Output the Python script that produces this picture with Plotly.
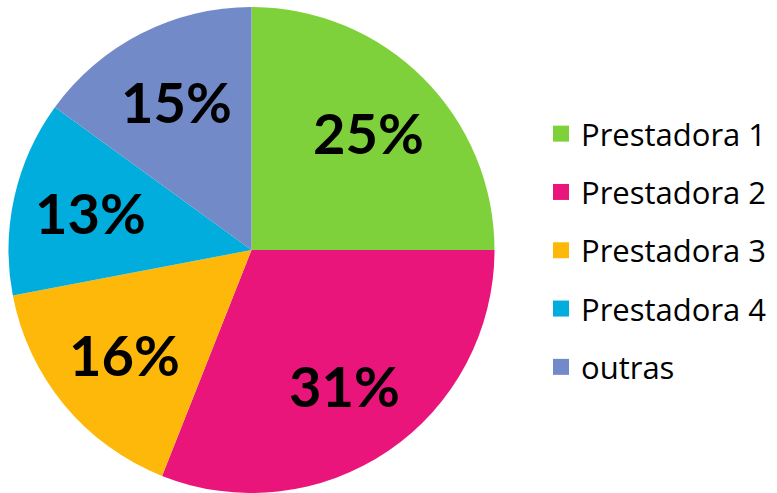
import math
import plotly.graph_objects as go

# Market share by provider
labels = ["Prestadora 1", "Prestadora 2", "Prestadora 3", "Prestadora 4", "outras"]
shares = [25, 31, 16, 13, 15]
colors = ["#7FD13B", "#EA157A", "#FEB80A", "#00ADDC", "#738AC8"]

W, H = 777, 493
# pie placement (pixels)
CX, CY, R = 251.5, 250.0, 243.0
LABEL_R = 0.68  # radial position of the percentage labels, as a fraction of R

fig = go.Figure()
fig.add_trace(
    go.Pie(
        labels=labels,
        values=shares,
        sort=False,
        direction="clockwise",
        rotation=0,
        marker=dict(colors=colors, line=dict(width=0)),
        textinfo="none",
        domain=dict(x=[(CX - R) / W, (CX + R) / W], y=[1 - (CY + R) / H, 1 - (CY - R) / H]),
        hoverinfo="label+percent",
        showlegend=False,
    )
)

# Percentage labels at the middle angle of each slice
total = sum(shares)
cum = 0
for v in shares:
    mid = (cum + v / 2) / total * 2 * math.pi  # clockwise from 12 o'clock
    cum += v
    px = CX + LABEL_R * R * math.sin(mid)
    py = CY - LABEL_R * R * math.cos(mid)
    fig.add_annotation(
        x=px / W,
        y=1 - py / H,
        xref="paper",
        yref="paper",
        text=f"{round(100 * v / total)}%",
        showarrow=False,
        xanchor="center",
        yanchor="middle",
        yshift=1,
        font=dict(family="Lato", size=56, color="black", weight="bold"),
    )

# Legend entries (one group each so the rows can be spaced apart)
for name, col in zip(labels, colors):
    fig.add_trace(
        go.Scatter(
            x=[None],
            y=[None],
            mode="markers",
            name=name,
            legendgroup=name,
            marker=dict(symbol="square", size=16, color=col),
        )
    )

fig.update_layout(
    width=W,
    height=H,
    margin=dict(l=0, r=0, t=0, b=0),
    paper_bgcolor="white",
    plot_bgcolor="white",
    xaxis=dict(visible=False),
    yaxis=dict(visible=False),
    legend=dict(
        x=541 / W,
        y=1 - 250.5 / H,
        xanchor="left",
        yanchor="middle",
        font=dict(family="Open Sans", size=31, color="black"),
        tracegroupgap=15,
        itemwidth=30,
        bgcolor="rgba(0,0,0,0)",
    ),
)

fig.write_html("out.html")
